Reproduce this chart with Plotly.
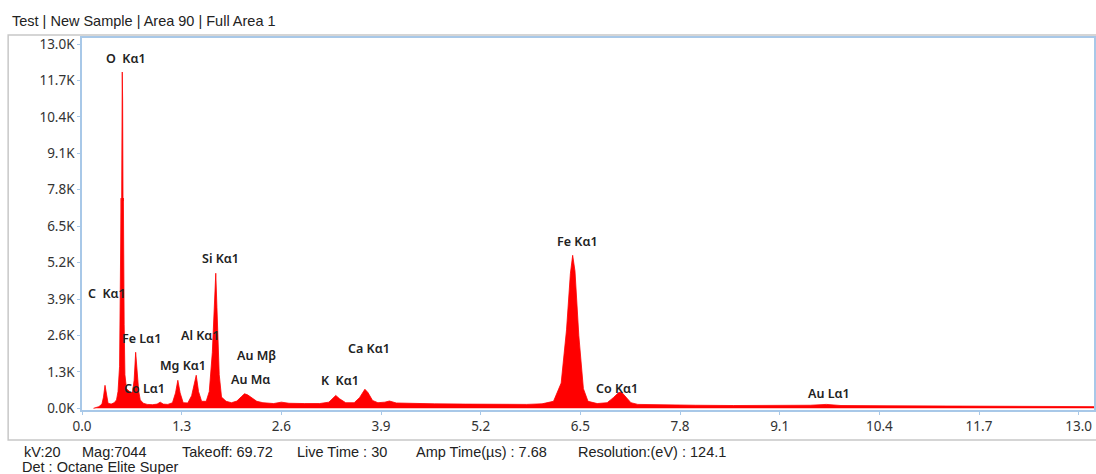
import plotly.graph_objects as go

# Spectrum: energy (keV) and counts
energy = [0.15, 0.18, 0.22, 0.26, 0.28, 0.30, 0.32, 0.34, 0.38, 0.42, 0.45, 0.47, 0.49, 0.50, 0.51,
          0.515, 0.52, 0.525, 0.53, 0.535, 0.54, 0.55, 0.56, 0.58, 0.60, 0.62, 0.64, 0.66, 0.68, 0.70,
          0.72, 0.74, 0.76, 0.80, 0.85, 0.92, 0.98, 1.02, 1.06, 1.12, 1.18, 1.22, 1.25, 1.28,
          1.32, 1.38, 1.43, 1.47, 1.49, 1.52, 1.56, 1.62, 1.66, 1.70, 1.73, 1.745, 1.76, 1.79,
          1.82, 1.88, 1.95, 2.02, 2.08, 2.12, 2.16, 2.22, 2.28, 2.36, 2.5, 2.6, 2.7, 2.9, 3.1,
          3.22, 3.28, 3.31, 3.36, 3.44, 3.55, 3.62, 3.69, 3.73, 3.79, 3.86, 3.95, 4.01, 4.1,
          4.3, 4.6, 5.0, 5.4, 5.8, 6.0, 6.15, 6.25, 6.32, 6.37, 6.40, 6.43, 6.48, 6.54, 6.60,
          6.72, 6.85, 6.93, 7.00, 7.04, 7.09, 7.16, 7.25, 7.6, 8.0, 8.5, 9.0, 9.5, 9.71, 9.9,
          10.5, 11.0, 11.7, 12.3, 13.0, 13.2]
counts = [0, 20, 60, 150, 400, 820, 400, 180, 150, 200, 300, 600, 1500, 3500, 7500,
          6000, 10500, 12000, 11000, 7400, 7500, 3000, 1200, 700, 650, 600, 550, 600, 1000, 2000,
          1400, 600, 300, 180, 140, 130, 150, 220, 150, 140, 200, 550, 1000, 550,
          200, 190, 450, 1000, 1180, 600, 250, 250, 600, 2000, 4300, 4820, 3600, 1200,
          400, 250, 200, 260, 420, 520, 480, 380, 250, 200, 170, 220, 180, 170, 170,
          220, 380, 460, 340, 200, 200, 380, 680, 560, 280, 200, 220, 260, 190,
          170, 160, 150, 140, 140, 160, 250, 900, 2800, 4800, 5460, 4900, 2600, 700, 250,
          170, 200, 380, 560, 570, 420, 200, 140, 120, 110, 100, 100, 110, 140, 100,
          90, 80, 70, 65, 60, 60]

# Peak labels and their anchor points (keV, counts)
peak_labels = ["O  Kα1", "C  Kα1", "Fe Lα1", "Co Lα1", "Mg Kα1", "Al Kα1", "Si Kα1",
               "Au Mβ", "Au Mα", "K  Kα1", "Ca Kα1", "Fe Kα1", "Co Kα1", "Au Lα1"]
label_x = [0.58, 0.33, 0.77, 0.82, 1.32, 1.54, 1.80, 2.28, 2.20, 3.37, 3.74, 6.46, 6.98, 9.74]
label_y = [12500, 4107, 2500, 714, 1536, 2607, 5357, 1893, 1036, 1000, 2143, 5964, 714, 536]

# Axis ticks
x_ticks = [0.0, 1.3, 2.6, 3.9, 5.2, 6.5, 7.8, 9.1, 10.4, 11.7, 13.0]
y_ticks = [0, 1300, 2600, 3900, 5200, 6500, 7800, 9100, 10400, 11700, 13000]
y_tick_text = ["0.0K", "1.3K", "2.6K", "3.9K", "5.2K", "6.5K", "7.8K", "9.1K", "10.4K", "11.7K", "13.0K"]

title_text = "Test | New Sample | Area 90 | Full Area 1"
info_items = ["kV:20", "Mag:7044", "Takeoff: 69.72", "Live Time : 30", "Amp Time(µs) : 7.68",
              "Resolution:(eV) : 124.1"]
info_px = [22, 80, 180, 295, 415, 577]
det_text = "Det : Octane Elite Super"

W, H = 1096, 474
L, R, T, B = 82, 0, 38, 64
pw, ph = W - L - R, H - T - B

fig = go.Figure()
fig.add_trace(go.Scatter(x=energy, y=counts, mode="lines", fill="tozeroy",
                         line=dict(color="#ff0000", width=0.8), fillcolor="#ff0000",
                         hoverinfo="skip", showlegend=False))

lab_font = dict(family="Noto Sans, Open Sans, sans-serif", size=12.5, color="#222222", weight=600)
for t, x, y in zip(peak_labels, label_x, label_y):
    fig.add_annotation(x=x, y=y, text=t, showarrow=False, font=lab_font,
                       xanchor="center", yanchor="middle")

txt_font = dict(family="Liberation Sans, Arial, sans-serif", size=14.5, color="#222222")
fig.add_annotation(xref="paper", yref="paper", x=(10 - L) / pw, y=(T + ph - 21) / ph,
                   text=title_text, showarrow=False, font=txt_font, xanchor="left", yanchor="middle")
for t, px in zip(info_items, info_px):
    fig.add_annotation(xref="paper", yref="paper", x=(px - L) / pw, y=(T + ph - 452) / ph,
                       text=t, showarrow=False, font=txt_font, xanchor="left", yanchor="middle")
fig.add_annotation(xref="paper", yref="paper", x=(20 - L) / pw, y=(T + ph - 467) / ph,
                   text=det_text, showarrow=False, font=txt_font, xanchor="left", yanchor="middle")

# outer grey frame
fig.add_shape(type="rect", xref="paper", yref="paper",
              x0=(8 - L) / pw, x1=(1100 - L) / pw, y0=(T + ph - 440) / ph, y1=(T + ph - 35) / ph,
              line=dict(color="#c8c8c8", width=1.5), fillcolor="rgba(0,0,0,0)", layer="below")

tick_font = dict(family="Noto Sans, Open Sans, sans-serif", size=13.5, color="#333333")
fig.update_layout(
    width=W, height=H, margin=dict(l=L, r=R, t=T, b=B),
    paper_bgcolor="white", plot_bgcolor="white",
    xaxis=dict(range=[0, 13.2], tickvals=x_ticks, ticktext=[f"{v:.1f}" for v in x_ticks],
               showgrid=False, zeroline=False, showline=True, mirror=True,
               linecolor="#a8c8e8", linewidth=1.5, ticks="outside", ticklen=3,
               tickcolor="#a8c8e8", tickfont=tick_font),
    yaxis=dict(range=[-60, 13214], tickvals=y_ticks, ticktext=y_tick_text,
               showgrid=False, zeroline=False, showline=True, mirror=True,
               linecolor="#a8c8e8", linewidth=1.5, ticks="outside", ticklen=3,
               tickcolor="#a8c8e8", tickfont=tick_font),
)

fig.write_html("out.html")
